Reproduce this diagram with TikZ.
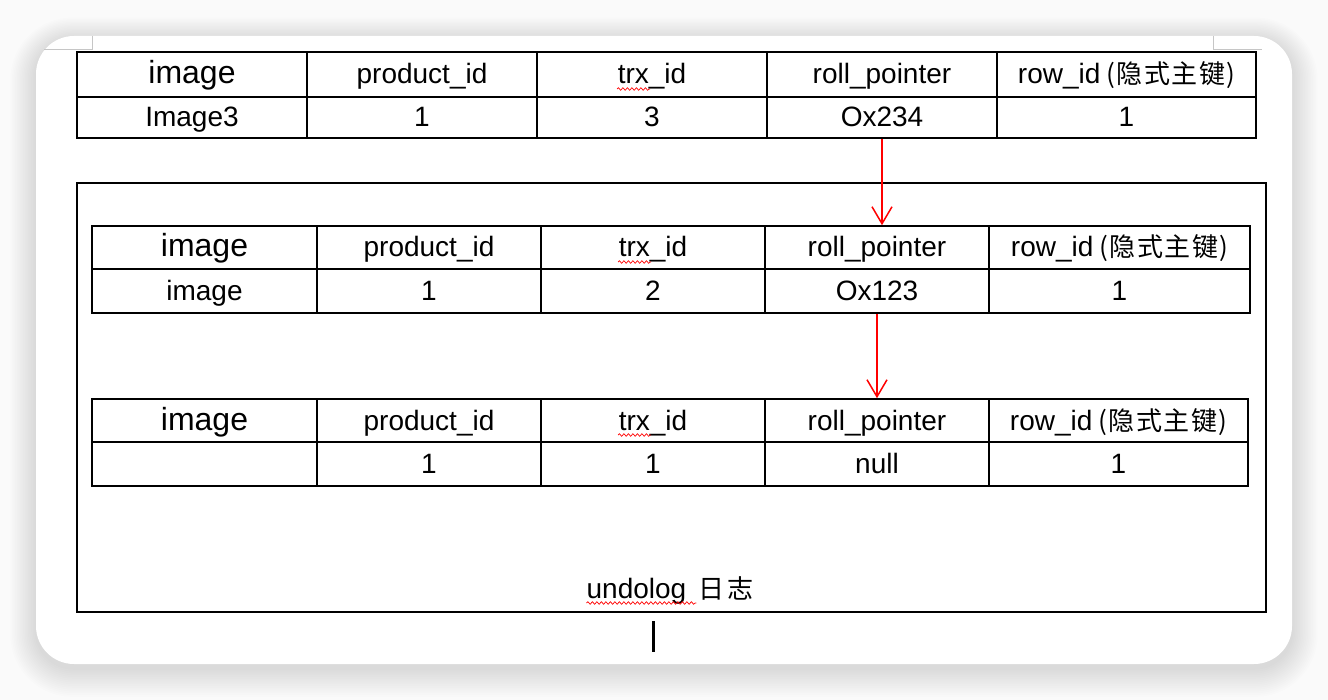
\documentclass[tikz,border=0pt]{standalone}
\usepackage{fontspec}
\setmainfont{Liberation Sans}
\newfontfamily\cjk{Noto Sans CJK SC}
\usetikzlibrary{arrows.meta,decorations.pathmorphing,calc}
\newcommand\bigfont{\fontsize{32}{34}\selectfont}
\newcommand\pk{{\cjk\fontsize{26}{28}\selectfont(\kern1.5pt 隐\kern1.5pt 式\kern1.5pt 主\kern1.5pt 键\kern1pt)}}
\begin{document}
\begin{tikzpicture}[x=1pt,y=-1pt,
  cell/.style={draw, line width=1.6pt, inner sep=0pt, text height=22.5pt, text depth=3.5pt,
    font=\fontsize{28}{30}\selectfont, anchor=center},
  frame/.style={draw, line width=1.6pt, inner sep=0pt},
  link/.style={red, line width=1.5pt, -{Straight Barb[length=17pt,width=20pt,line width=1.5pt]}},
  wavy/.style={red, line width=0.7pt, decorate, decoration={snake, segment length=4.5pt, amplitude=1.3pt}},
  cornermark/.style={gray!45, line width=1pt}]
\useasboundingbox (0,0) rectangle (1328,700);
% background and card shadow
\fill[gray!4] (0,0) rectangle (1328,700);
\foreach \k in {1,...,16}{
  \fill[black, opacity=0.009, rounded corners={38+1.5*\k}]
    ({36-1.6*\k},{40-1.4*\k}) rectangle ({1292+1.6*\k},{668+1.8*\k});
}
\fill[white, rounded corners=38] (36,36) rectangle (1292,664);
% page corner marks
\draw[cornermark] (92,36) -- (92,50) -- (44,50);
\draw[cornermark] (1213,36) -- (1213,50) -- (1262,50);
% table 1
\foreach \n/\xa/\xb/\h/\d in {1/77/307/{\bigfont image}/Image3, 2/307/537/product\_id/1,
   3/537/767/trx\_id/3, 4/767/997/roll\_pointer/Ox234,
   5/997/1256/{row\_id\kern6pt\pk}/1}{
  \node[cell, minimum width={\xb-\xa}, minimum height=45] (t1h\n) at ({(\xa+\xb)/2},74.5) {\h};
  \node[cell, minimum width={\xb-\xa}, minimum height=41] (t1d\n) at ({(\xa+\xb)/2},117.5) {\d};
}
% undo log frame
\node[frame, minimum width=1189, minimum height=429] (undo) at (671.5,397.5) {};
% table 2
\foreach \n/\xa/\xb/\h/\d in {1/92/317/{\bigfont image}/image, 2/317/541/product\_id/1,
   3/541/765/trx\_id/2, 4/765/989/roll\_pointer/Ox123,
   5/989/1250/{row\_id\kern6pt\pk}/1}{
  \node[cell, minimum width={\xb-\xa}, minimum height=43] (t2h\n) at ({(\xa+\xb)/2},247.5) {\h};
  \node[cell, minimum width={\xb-\xa}, minimum height=44] (t2d\n) at ({(\xa+\xb)/2},291) {\d};
}
% table 3
\foreach \n/\xa/\xb/\h/\d in {1/92/317/{\bigfont image}/{}, 2/317/541/product\_id/1,
   3/541/765/trx\_id/1, 4/765/989/roll\_pointer/null,
   5/989/1248/{row\_id\kern6pt\pk}/1}{
  \node[cell, minimum width={\xb-\xa}, minimum height=43] (t3h\n) at ({(\xa+\xb)/2},420.5) {\h};
  \node[cell, minimum width={\xb-\xa}, minimum height=44] (t3d\n) at ({(\xa+\xb)/2},464) {\d};
}
% spell-check underlines
\foreach \t in {t1h3,t2h3,t3h3}{
  \draw[wavy] ($(\t.base)+(-35,5)$) -- ($(\t.base)+(-2,5)$);
}
% arrows
\draw[link] (t1d4.south) -- (t1d4.south |- t2h4.north);
\draw[link] (t2d4.south) -- (t2d4.south |- t3h4.north);
% label
\node[font=\fontsize{28}{30}\selectfont, inner sep=0pt, text height=20pt, text depth=6pt] (lbl) at (670,591)
  {undolog\kern12pt{\cjk\fontsize{26}{28}\selectfont 日\kern3pt 志}};
\draw[wavy] ($(lbl.base west)+(0,5)$) -- ($(lbl.base west)+(110,5)$);
% text cursor
\draw[line width=3pt] (653,621) -- (653,652);
\end{tikzpicture}
\end{document}
